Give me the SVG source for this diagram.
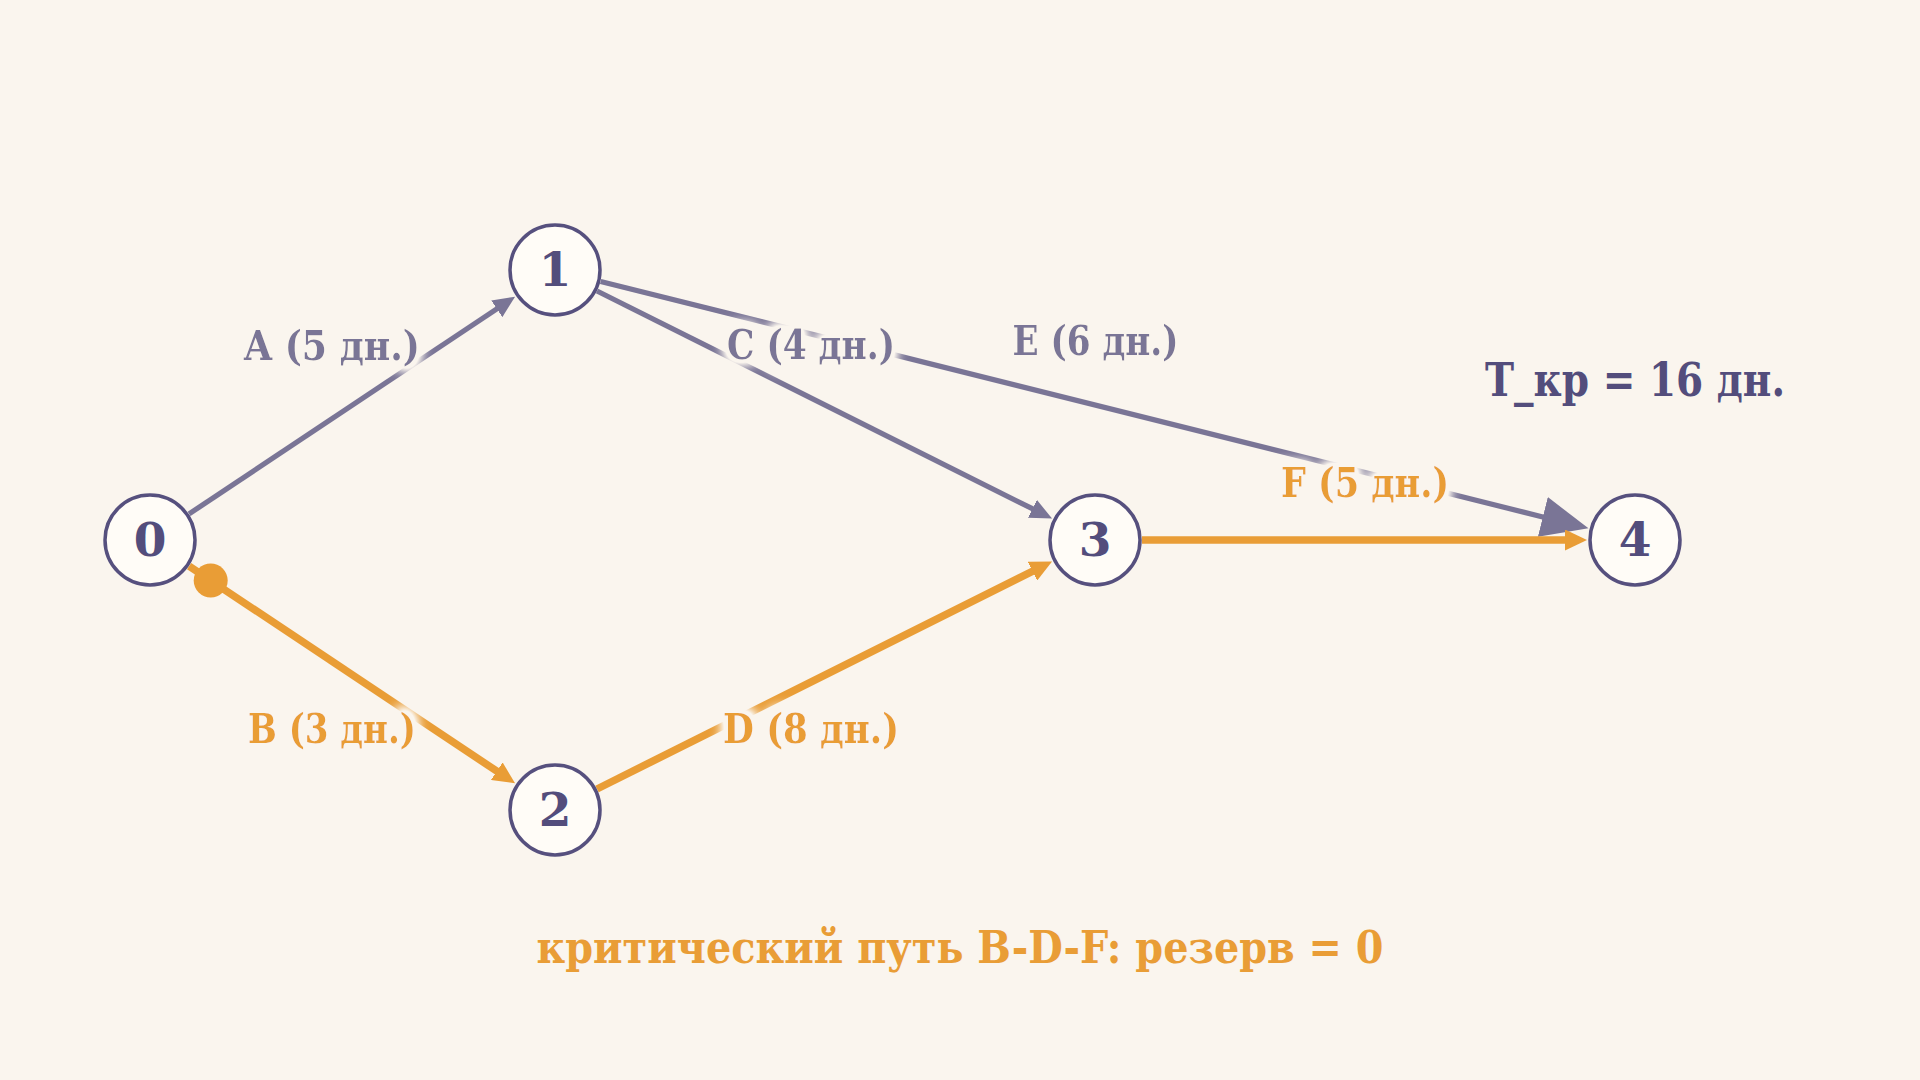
<svg xmlns="http://www.w3.org/2000/svg" width="1920" height="1080" viewBox="0 0 1920 1080">
  <style>
    .edge { fill: none; stroke-linecap: butt; }
    .purple { stroke: #7a7596; stroke-width: 5.2; }
    .orange { stroke: #e99d36; stroke-width: 7.5; }
    .node circle { fill: #fffcf7; stroke: #56507e; stroke-width: 3.5; }
    .node text { font-family: "DejaVu Serif", serif; font-weight: bold; font-size: 47px; fill: #534d7c; text-anchor: middle; }
    .lbl { font-family: "DejaVu Serif", serif; font-weight: bold; font-size: 41px; text-anchor: middle; filter: url(#halo); }
    .lp { fill: #7a7596; }
    .lo { fill: #e99d36; }
    .note { font-family: "DejaVu Serif", serif; font-weight: bold; text-anchor: middle; }
  </style>
  <defs>
    <marker id="arrP" markerUnits="userSpaceOnUse" markerWidth="23" markerHeight="20" refX="1" refY="10" orient="auto">
      <path d="M0,0 L22,10 L0,20 z" fill="#7a7596"/>
    </marker>
    <marker id="arrO" markerUnits="userSpaceOnUse" markerWidth="23" markerHeight="21" refX="1" refY="10.5" orient="auto">
      <path d="M0,0 L22,10.5 L0,21 z" fill="#e99d36"/>
    </marker>
    <marker id="arrBig" markerUnits="userSpaceOnUse" markerWidth="48" markerHeight="41" refX="1" refY="20.5" orient="auto">
      <path d="M0,0 L47,20.5 L0,41 z" fill="#7a7596"/>
    </marker>
    <filter id="halo" x="-30%" y="-60%" width="160%" height="220%">
      <feMorphology in="SourceAlpha" operator="dilate" radius="5" result="d"/>
      <feGaussianBlur in="d" stdDeviation="6" result="b"/>
      <feComponentTransfer in="b" result="b2">
        <feFuncA type="linear" slope="1.6"/>
      </feComponentTransfer>
      <feFlood flood-color="#faf5ee"/>
      <feComposite in2="b2" operator="in" result="h"/>
      <feMerge>
        <feMergeNode in="h"/>
        <feMergeNode in="SourceGraphic"/>
      </feMerge>
    </filter>
  </defs>

  <rect width="1920" height="1080" fill="#faf5ee"/>

  <g id="connectors">
    <line id="edge-A" class="edge purple" x1="189.1" y1="513.9" x2="497.6" y2="308.3" marker-end="url(#arrP)"/>
    <line id="edge-B" class="edge orange" x1="189.1" y1="566.1" x2="497.6" y2="771.7" marker-end="url(#arrO)"/>
    <circle id="edge-B-start" cx="210.7" cy="580.5" r="17" fill="#e99d36"/>
    <line id="edge-C" class="edge purple" x1="597" y1="291" x2="1033.3" y2="509.2" marker-end="url(#arrP)"/>
    <line id="edge-E" class="edge purple" x1="600.6" y1="281.4" x2="1543.8" y2="517.2" marker-end="url(#arrBig)"/>
    <line id="edge-D" class="edge orange" x1="597" y1="789" x2="1033.3" y2="570.8" marker-end="url(#arrO)"/>
    <line id="edge-F" class="edge orange" x1="1142" y1="540" x2="1566" y2="540" marker-end="url(#arrO)"/>
  </g>

  <g id="labels">
    <text class="lbl lp" x="332" y="360" textLength="176" lengthAdjust="spacingAndGlyphs">A (5 дн.)</text>
    <text class="lbl lo" x="332" y="743" textLength="168" lengthAdjust="spacingAndGlyphs">B (3 дн.)</text>
    <text class="lbl lp" x="811" y="359" textLength="168" lengthAdjust="spacingAndGlyphs">C (4 дн.)</text>
    <text class="lbl lo" x="811" y="743" textLength="176" lengthAdjust="spacingAndGlyphs">D (8 дн.)</text>
    <text class="lbl lp" x="1095.5" y="355" textLength="166" lengthAdjust="spacingAndGlyphs">E (6 дн.)</text>
    <text class="lbl lo" x="1365" y="497" textLength="168" lengthAdjust="spacingAndGlyphs">F (5 дн.)</text>
  </g>

  <g id="node-0" class="node"><circle cx="150" cy="540" r="45"/><text x="150" y="556">0</text></g>
  <g id="node-1" class="node"><circle cx="555" cy="270" r="45"/><text x="555" y="286">1</text></g>
  <g id="node-2" class="node"><circle cx="555" cy="810" r="45"/><text x="555" y="826">2</text></g>
  <g id="node-3" class="node"><circle cx="1095" cy="540" r="45"/><text x="1095" y="556">3</text></g>
  <g id="node-4" class="node"><circle cx="1635" cy="540" r="45"/><text x="1635" y="556">4</text></g>

  <text id="t-kr" class="note" x="1635" y="396" font-size="46" fill="#534d7c" textLength="300" lengthAdjust="spacingAndGlyphs">T_кр = 16 дн.</text>
  <text id="critical" class="note" x="960" y="963" font-size="45" fill="#e99d36" textLength="847" lengthAdjust="spacingAndGlyphs">критический путь B-D-F: резерв = 0</text>
</svg>
